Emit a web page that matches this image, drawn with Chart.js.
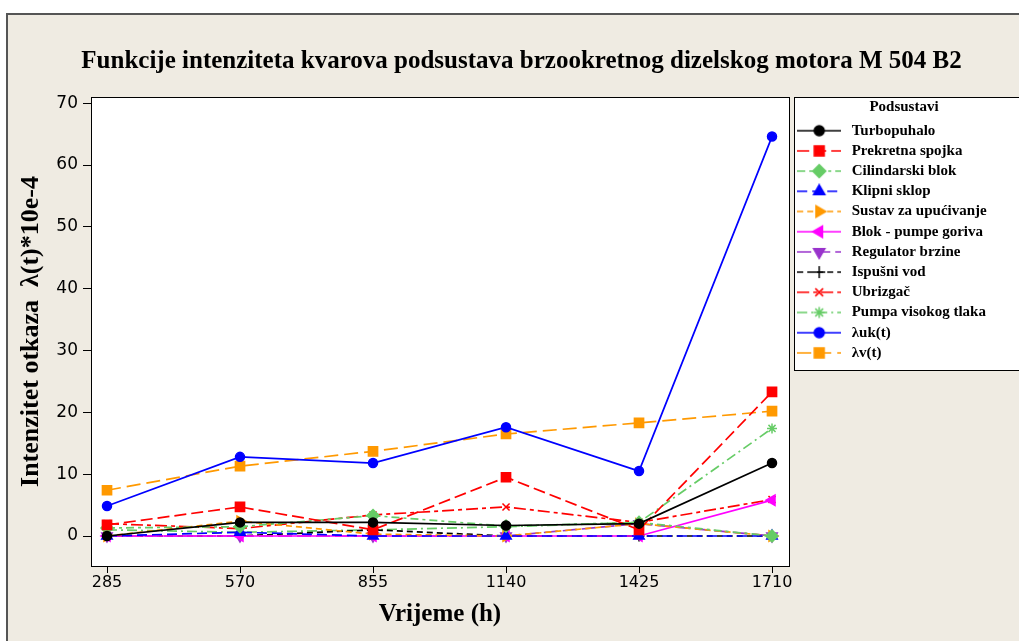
<!DOCTYPE html>
<html>
<head>
<meta charset="utf-8">
<script src="https://cdn.jsdelivr.net/npm/chart.js@4/dist/chart.umd.min.js"></script>
<style>
  html, body { margin: 0; padding: 0; background: #fff; }
</style>
</head>
<body>
<canvas id="myChart" width="1019" height="641"></canvas>
<script>
// hours (x axis)
const hours = [285, 570, 855, 1140, 1425, 1710];
const yTicks = [0, 10, 20, 30, 40, 50, 60, 70];

// failure rates per subsystem
const turbopuhalo = [0, 2.2, 2.2, 1.7, 2.0, 11.8];
const prekretnaSpojka = [1.8, 4.7, 1.0, 9.5, 1.0, 23.3];
const cilindarskiBlok = [1.3, 1.5, 3.3, 1.6, 2.2, 0];
const klipniSklop = [0, 0.6, 0, 0, 0, 0];
const sustavUpucivanje = [0, 2.4, 0.3, 0, 2.0, 0];
const blokPumpe = [0, 0, 0, 0, 0, 5.8];
const regulatorBrzine = [0, 0, 0, 0, 2.0, 0];
const ispusniVod = [0, 0, 1.0, 0, 0, 0];
const ubrizgac = [2.0, 1.2, 3.4, 4.7, 2.2, 5.9];
const pumpaVisokogTlaka = [1.0, 0.6, 1.0, 1.5, 2.2, 17.4];
const lambdaUk = [4.85, 12.8, 11.8, 17.6, 10.5, 64.6];
const lambdaV = [7.4, 11.3, 13.7, 16.5, 18.3, 20.2];

function pts(arr) {
  return hours.map((h, i) => ({ x: h, y: arr[i] }));
}

function series(label, arr, color, dash, style, radius, rot) {
  return {
    label: label,
    data: pts(arr),
    borderColor: color,
    backgroundColor: color,
    borderWidth: 1.7,
    borderDash: dash,
    tension: 0,
    fill: false,
    pointStyle: style,
    pointRotation: rot || 0,
    pointRadius: radius,
    pointBackgroundColor: color,
    pointBorderColor: color,
    pointBorderWidth: 1.5,
  };
}

// legend sample: a piece of line with the marker in the middle
function legendIcon(ds) {
  const c = document.createElement("canvas");
  c.width = 44;
  c.height = 16;
  const g = c.getContext("2d");
  g.strokeStyle = ds.borderColor;
  g.lineWidth = 1.5;
  g.setLineDash(ds.borderDash || []);
  g.beginPath();
  g.moveTo(0, 8);
  g.lineTo(44, 8);
  g.stroke();
  g.setLineDash([]);
  g.fillStyle = ds.pointBackgroundColor;
  g.strokeStyle = ds.pointBorderColor;
  g.lineWidth = ds.pointBorderWidth;
  if (Chart.helpers && Chart.helpers.drawPoint) {
    Chart.helpers.drawPoint(g, {
      pointStyle: ds.pointStyle,
      rotation: ds.pointRotation,
      radius: ds.pointRadius + 0.5,
      borderWidth: ds.pointBorderWidth,
    }, 22, 8);
  } else {
    g.beginPath();
    g.arc(22, 8, 4, 0, Math.PI * 2);
    g.fill();
  }
  return c;
}

// panel background, plot area and legend box
const backdrop = {
  id: "backdrop",
  beforeLayout(chart) {
    const lg = chart.legend;
    if (lg && !lg._wide) {
      const fit = lg.fit;
      lg.fit = function () {
        fit.call(this);
        this.width = 230;
      };
      lg._wide = true;
    }
  },
  beforeDraw(chart) {
    const { ctx, width, height, chartArea: a } = chart;
    ctx.save();
    ctx.fillStyle = "#ffffff";
    ctx.fillRect(0, 0, width, height);
    ctx.fillStyle = "#efebe2";
    ctx.fillRect(7, 14, width - 7, height - 14);
    ctx.strokeStyle = "#555555";
    ctx.lineWidth = 2;
    ctx.beginPath();
    ctx.moveTo(7, height);
    ctx.lineTo(7, 14);
    ctx.lineTo(width, 14);
    ctx.stroke();
    ctx.fillStyle = "#ffffff";
    ctx.fillRect(a.left, a.top, a.right - a.left, a.bottom - a.top);
    ctx.fillRect(794, a.top, width - 794 + 5, 370 - a.top);
    ctx.strokeStyle = "#000000";
    ctx.lineWidth = 1;
    ctx.strokeRect(Math.round(a.left) + 0.5, Math.round(a.top) + 0.5, Math.round(a.right - a.left), Math.round(a.bottom - a.top));
    ctx.strokeRect(794.5, Math.round(a.top) + 0.5, width - 794 + 5, 370 - Math.round(a.top));
    ctx.restore();
  },
};

const ctx = document.getElementById("myChart").getContext("2d");

const chart = new Chart(ctx, {
  type: "line",
  data: {
    datasets: [
      series("Turbopuhalo", turbopuhalo, "#000000", [], "circle", 4.5),
      series("Prekretna spojka", prekretnaSpojka, "#ff0000", [12, 5], "rect", 6.5),
      series("Cilindarski blok", cilindarskiBlok, "#66cc66", [8, 4, 3, 4], "rectRot", 6),
      series("Klipni sklop", klipniSklop, "#0000ff", [10, 5], "triangle", 6),
      series("Sustav za upućivanje", sustavUpucivanje, "#ff9900", [6, 4], "triangle", 6, 90),
      series("Blok - pumpe goriva", blokPumpe, "#ff00ff", [], "triangle", 6, -90),
      series("Regulator brzine", regulatorBrzine, "#9933cc", [14, 5], "triangle", 6, 180),
      series("Ispušni vod", ispusniVod, "#000000", [6, 4], "cross", 5.5),
      series("Ubrizgač", ubrizgac, "#ff0000", [12, 4, 4, 4], "crossRot", 5),
      series("Pumpa visokog tlaka", pumpaVisokogTlaka, "#66cc66", [10, 4, 2, 4], "star", 5),
      series("λuk(t)", lambdaUk, "#0000ff", [], "circle", 4.5),
      series("λv(t)", lambdaV, "#ff9900", [14, 6], "rect", 6.5),
    ],
  },
  options: {
    responsive: false,
    animation: false,
    devicePixelRatio: 1,
    layout: { padding: { left: 24, right: 0, top: 0, bottom: 0 } },
    plugins: {
      title: {
        display: true,
        text: "Funkcije intenziteta kvarova podsustava brzookretnog dizelskog motora M 504 B2",
        color: "#000",
        font: { family: "Liberation Serif", size: 25, weight: "bold" },
        padding: { top: 47, bottom: 20 },
      },
      legend: {
        display: true,
        position: "right",
        align: "start",
        fullSize: false,
        title: {
          display: true,
          text: "Podsustavi",
          color: "#000",
          font: { family: "Liberation Serif", size: 15, weight: "bold" },
          padding: { top: 3, bottom: 0 },
        },
        labels: {
          usePointStyle: true,
          pointStyleWidth: 50,
          padding: 5.2,
          color: "#000",
          font: { family: "Liberation Serif", size: 15, weight: "bold" },
          generateLabels: (c) =>
            c.data.datasets.map((ds, i) => ({
              text: ds.label,
              pointStyle: legendIcon(ds),
              rotation: 0,
              fillStyle: ds.borderColor,
              strokeStyle: ds.borderColor,
              lineWidth: 0,
              hidden: false,
              datasetIndex: i,
              fontColor: "#000",
            })),
        },
      },
      tooltip: { enabled: false },
    },
    scales: {
      x: {
        type: "linear",
        min: 250.7,
        max: 1746.4,
        afterBuildTicks: (axis) => {
          axis.ticks = hours.map((v) => ({ value: v }));
        },
        afterFit: (axis) => {
          axis.height = 75;
        },
        ticks: {
          color: "#000",
          padding: 0,
          maxRotation: 0,
          font: { family: "DejaVu Sans", size: 16 },
          callback: (v) => String(v),
        },
        grid: { drawOnChartArea: false, drawTicks: true, tickLength: 7, color: "#000" },
        border: { display: false },
        title: {
          display: true,
          text: "Vrijeme (h)",
          color: "#000",
          font: { family: "Liberation Serif", size: 25, weight: "bold" },
          padding: { top: 0, bottom: 11 },
        },
      },
      y: {
        min: -4.85,
        max: 71,
        afterBuildTicks: (axis) => {
          axis.ticks = yTicks.map((v) => ({ value: v }));
        },
        afterFit: (axis) => {
          axis.width = 67;
        },
        ticks: {
          color: "#000",
          padding: 5,
          font: { family: "DejaVu Sans", size: 17 },
          callback: (v) => String(v),
        },
        grid: { drawOnChartArea: false, drawTicks: true, tickLength: 8, color: "#000" },
        border: { display: false },
        title: {
          display: true,
          text: "Intenzitet otkaza  λ(t)*10e-4",
          color: "#000",
          font: { family: "Liberation Serif", size: 26, weight: "bold" },
          padding: { top: -8.6, bottom: 0 },
        },
      },
    },
  },
  plugins: [backdrop],
});
</script>
</body>
</html>
